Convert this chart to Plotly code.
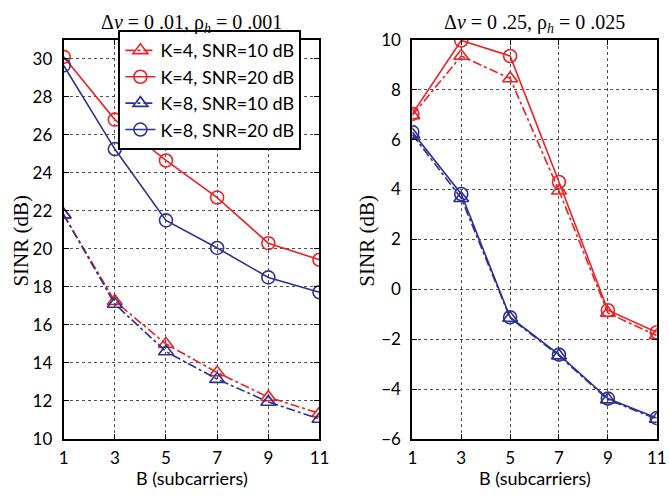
import plotly.graph_objects as go

B = [1, 3, 5, 7, 9, 11]

# Left panel: dv = 0.01, rho_h = 0.001
left_k4_10 = [21.8, 17.25, 15.0, 13.5, 12.2, 11.35]
left_k4_20 = [30.1, 26.8, 24.65, 22.7, 20.3, 19.43]
left_k8_10 = [21.8, 17.1, 14.6, 13.15, 11.95, 11.05]
left_k8_20 = [29.65, 25.25, 21.5, 20.05, 18.5, 17.72]

# Right panel: dv = 0.25, rho_h = 0.025
right_k4_10 = [6.97, 9.35, 8.45, 3.95, -0.95, -1.85]
right_k4_20 = [7.03, 9.97, 9.35, 4.3, -0.84, -1.72]
right_k8_10 = [6.2, 3.65, -1.15, -2.66, -4.42, -5.2]
right_k8_20 = [6.3, 3.82, -1.12, -2.62, -4.38, -5.16]

left_yticks = list(range(10, 31, 2))
right_yticks = list(range(-6, 11, 2))

names = ["K=4, SNR=10 dB", "K=4, SNR=20 dB", "K=8, SNR=10 dB", "K=8, SNR=20 dB"]
RED = "rgb(237,32,36)"
BLUE = "rgb(46,49,146)"
colors = [RED, RED, BLUE, BLUE]
dashes = ["dashdot", "solid", "dashdot", "solid"]
symbols = ["triangle-up-open", "circle-open", "triangle-up-open", "circle-open"]

fig = go.Figure()
left_series = [left_k4_10, left_k4_20, left_k8_10, left_k8_20]
right_series = [right_k4_10, right_k4_20, right_k8_10, right_k8_20]

for i, ys in enumerate(left_series):
    fig.add_trace(go.Scatter(
        x=B, y=ys, name=names[i], mode="lines+markers",
        line=dict(color=colors[i], width=1.6, dash=dashes[i]),
        marker=dict(symbol=symbols[i], size=13, color=colors[i], line=dict(width=1.6, color=colors[i])),
        xaxis="x", yaxis="y", showlegend=True))
for i, ys in enumerate(right_series):
    fig.add_trace(go.Scatter(
        x=B, y=ys, name=names[i], mode="lines+markers",
        line=dict(color=colors[i], width=1.6, dash=dashes[i]),
        marker=dict(symbol=symbols[i], size=13, color=colors[i], line=dict(width=1.6, color=colors[i])),
        xaxis="x2", yaxis="y2", showlegend=False))

sans = "Lato, Open Sans, sans-serif"
serif = "Liberation Serif, Times New Roman, serif"
tickfont = dict(family=sans, size=17, color="black")
common_ax = dict(showline=True, linecolor="black", linewidth=2, mirror="ticks",
                 ticks="inside", ticklen=5, tickcolor="black", tickwidth=1,
                 showgrid=True, gridcolor="rgba(60,60,60,0.9)", griddash="dot", gridwidth=1,
                 zeroline=False, tickfont=tickfont)

ydom = [(502 - 446.7) / 502, (502 - 30) / 502]

fig.update_layout(
    width=669, height=502,
    margin=dict(l=0, r=0, t=0, b=0),
    paper_bgcolor="white", plot_bgcolor="white",
    xaxis=dict(domain=[60 / 669, 321.7 / 669], range=[1, 11], tickvals=B, anchor="y",
               ticklabelstandoff=3, **common_ax),
    yaxis=dict(domain=ydom, range=[10, 31], tickvals=left_yticks, anchor="x",
               ticklabelstandoff=6, **common_ax),
    xaxis2=dict(domain=[416.7 / 669, 666.7 / 669], range=[1, 11], tickvals=B, anchor="y2",
                ticklabelstandoff=3, **common_ax),
    yaxis2=dict(domain=ydom, range=[-6, 10], tickvals=right_yticks, anchor="x2",
                ticklabelstandoff=6, **common_ax),
    legend=dict(x=116 / 669, y=(502 - 20) / 502, xanchor="left", yanchor="top",
                bgcolor="white", bordercolor="black", borderwidth=2,
                font=dict(family=sans, size=18, color="black"),
                entrywidth=170, tracegroupgap=0),
    showlegend=True,
)

annos = [
    dict(text="Δ<i>ν</i> = 0 .01, ρ<sub><i>h</i></sub> = 0 .001", x=191 / 669, y=1 - 13 / 502,
         font=dict(family=serif, size=20, color="black")),
    dict(text="Δ<i>ν</i> = 0 .25, ρ<sub><i>h</i></sub> = 0 .025", x=542 / 669, y=1 - 13 / 502,
         font=dict(family=serif, size=20, color="black")),
    dict(text="SINR (dB)", x=16 / 669, y=1 - 240 / 502, textangle=-90,
         font=dict(family=serif, size=21, color="black")),
    dict(text="SINR (dB)", x=370 / 669, y=1 - 240 / 502, textangle=-90,
         font=dict(family=serif, size=21, color="black")),
    dict(text="B (subcarriers)", x=191 / 669, y=1 - 487 / 502,
         font=dict(family=sans, size=18, color="black")),
    dict(text="B (subcarriers)", x=542 / 669, y=1 - 487 / 502,
         font=dict(family=sans, size=18, color="black")),
]
for a in annos:
    fig.add_annotation(xref="paper", yref="paper", showarrow=False,
                       xanchor="center", yanchor="middle", **a)

fig.write_html("out.html")
